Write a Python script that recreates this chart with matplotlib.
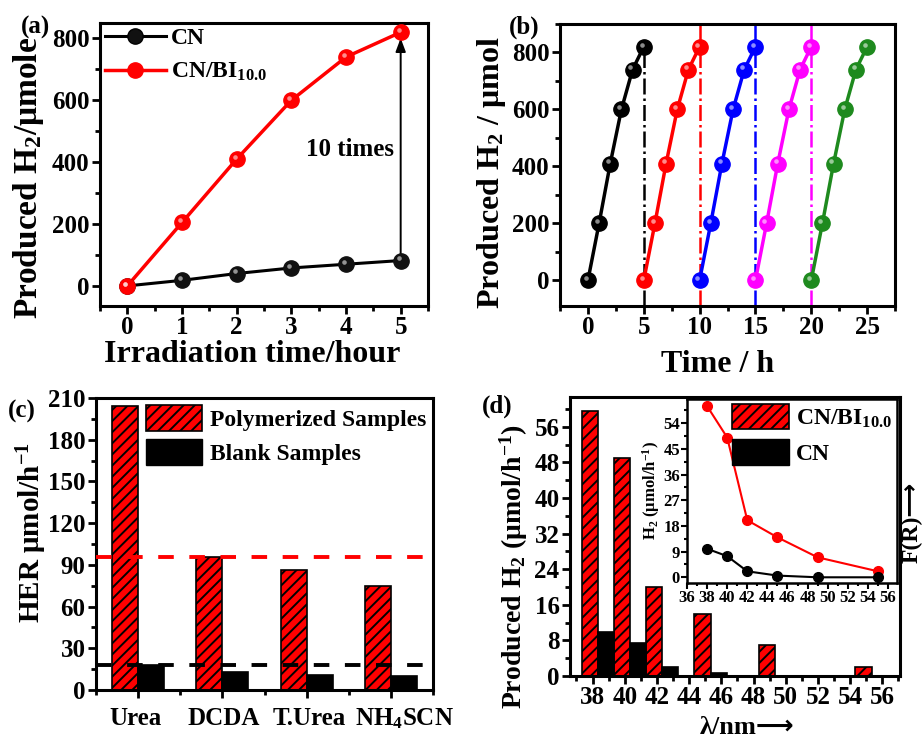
import matplotlib
matplotlib.use("Agg")
import matplotlib.pyplot as plt
import numpy as np
from matplotlib.transforms import offset_copy, ScaledTranslation
from matplotlib.ticker import MultipleLocator
from matplotlib.patches import Patch
from matplotlib.lines import Line2D

# ---------------- data ----------------
# (a)
time_a = [0, 1, 2, 3, 4, 5]
cn_a = [0, 18, 40, 58, 70, 82]
cnbi_a = [0, 205, 410, 600, 740, 820]
# (b)
cycle_t = [0, 1, 2, 3, 4, 5]
cycle_h2 = [0, 200, 410, 600, 740, 820]
cycle_starts = [0, 5, 10, 15, 20]
cycle_colors = ['black', 'red', 'blue', 'magenta', '#1e8a1e']
sep_lines = [5, 10, 15, 20]
# (c)
precursors = ['Urea', 'DCDA', 'T.Urea', 'NH$_4$SCN']
polymerized = [204, 96, 86, 75]
blank = [18, 13, 11, 10]
ref_poly = 96
ref_blank = 18
# (d)
wavelength = [38, 40, 42, 45, 49, 55]
cnbi_d = [59.5, 49, 20, 14, 7, 2]
cn_d = [10, 7.5, 2, 0.6, 0, 0]
cnbi_inset = [60, 49, 20, 14, 7, 2.1]
cn_inset = [10, 7.4, 2.1, 0.6, 0, 0]

# ---------------- style ----------------
plt.rcParams['font.family'] = ['Liberation Serif', 'DejaVu Sans']
plt.rcParams['font.weight'] = 'bold'
plt.rcParams['mathtext.fontset'] = 'custom'
plt.rcParams['mathtext.rm'] = 'Liberation Serif:bold'
plt.rcParams['mathtext.it'] = 'Liberation Serif:bold'
plt.rcParams['mathtext.bf'] = 'Liberation Serif:bold'
plt.rcParams['mathtext.default'] = 'rm'
plt.rcParams['hatch.linewidth'] = 1.4
plt.rcParams['axes.linewidth'] = 2.2

W, H = 923, 740
fig = plt.figure(figsize=(W / 100, H / 100), dpi=100)


def box(l, t, r, b):
    return [l / W, 1 - b / H, (r - l) / W, (b - t) / H]


def style_axes(ax, fs=18):
    ax.tick_params(which='major', direction='out', length=6, width=2, labelsize=fs, pad=1.5)
    ax.tick_params(which='minor', direction='out', length=3.5, width=2)
    ax.tick_params(top=False, right=False, which='both')
    for lab in ax.get_xticklabels() + ax.get_yticklabels():
        lab.set_fontweight('bold')


def sphere(ax, x, y, color, ms=10):
    ax.plot(x, y, 'o', color=color, ms=ms, mec=color, zorder=4)
    tr = offset_copy(ax.transData, fig=fig, x=-1.5, y=1.5, units='points')
    ax.plot(x, y, 'o', color='white', alpha=0.55, ms=ms * 0.3, mec='none', transform=tr, zorder=5)


# ---------------- (a) ----------------
axa = fig.add_axes(box(100, 23, 428, 306))
axa.plot(time_a, cn_a, '-', color='black', lw=2.2, zorder=3)
axa.plot(time_a, cnbi_a, '-', color='red', lw=2.5, zorder=3)
sphere(axa, time_a, cn_a, '#111111', ms=11)
sphere(axa, time_a, cnbi_a, 'red', ms=11)
axa.set_xlim(-0.5, 5.5)
axa.set_ylim(-65, 850)
axa.xaxis.set_major_locator(MultipleLocator(1))
axa.xaxis.set_minor_locator(MultipleLocator(0.5))
axa.yaxis.set_major_locator(MultipleLocator(200))
axa.yaxis.set_minor_locator(MultipleLocator(100))
style_axes(axa)
axa.annotate('', xy=(time_a[-1], cnbi_a[-1] - 10), xytext=(time_a[-1], cn_a[-1] + 10),
             arrowprops=dict(arrowstyle='-|>,head_length=0.8,head_width=0.3', color='black', lw=1.4))
axa.text(4.07, 440, '10 times', ha='center', va='center', fontsize=18, fontweight='bold')
h_cn = Line2D([], [], color='black', lw=2.2, marker='o', ms=11, mfc='#111111')
h_cnbi = Line2D([], [], color='red', lw=2.5, marker='o', ms=11, mfc='red')
axa.legend([h_cn, h_cnbi], ['CN', 'CN/BI$_{10.0}$'], loc='upper left', bbox_to_anchor=(0.0, 1.0),
           frameon=False, fontsize=17, handlelength=2.6, borderaxespad=0.0, borderpad=0.2,
           labelspacing=0.5, handletextpad=0.2)
fig.text(29 / W, 1 - 178 / H, 'Produced H$_2$/μmole', rotation=90, ha='center', va='center',
         fontsize=24, fontweight='bold')
fig.text(252 / W, 1 - 354 / H, 'Irradiation time/hour', ha='center', va='center',
         fontsize=23, fontweight='bold')
fig.text(35 / W, 1 - 27 / H, '(a)', ha='center', va='center', fontsize=18, fontweight='bold')

# ---------------- (b) ----------------
axb = fig.add_axes(box(560, 24, 895, 306))
for s, c in zip(cycle_starts, cycle_colors):
    tt = [s + t for t in cycle_t]
    axb.plot(tt, cycle_h2, '-', color=c, lw=2.5, zorder=3)
    sphere(axb, tt, cycle_h2, c, ms=11)
for i, xv in enumerate(sep_lines):
    c = cycle_colors[i]
    top = cycle_h2[-1] if i == 0 else 900
    axb.plot([xv, xv], [-90, top], color=c, lw=1.8, ls='-.', zorder=2)
axb.set_xlim(-2.5, 27.5)
axb.set_ylim(-90, 900)
axb.xaxis.set_major_locator(MultipleLocator(5))
axb.xaxis.set_minor_locator(MultipleLocator(2.5))
axb.yaxis.set_major_locator(MultipleLocator(200))
axb.yaxis.set_minor_locator(MultipleLocator(100))
style_axes(axb)
fig.text(491 / W, 1 - 173 / H, 'Produced H$_2$ / μmol', rotation=90, ha='center', va='center',
         fontsize=23, fontweight='bold')
fig.text(718 / W, 1 - 365 / H, 'Time / h', ha='center', va='center', fontsize=23, fontweight='bold')
fig.text(524 / W, 1 - 27 / H, '(b)', ha='center', va='center', fontsize=18, fontweight='bold')

# ---------------- (c) ----------------
axc = fig.add_axes(box(96, 398, 433, 690))
xc = np.arange(1, len(precursors) + 1)
wc = 0.31
axc.bar(xc - wc / 2, polymerized, width=wc, color='red', edgecolor='black', hatch='///', lw=1.2, zorder=2)
axc.bar(xc + wc / 2, blank, width=wc, color='black', edgecolor='black', lw=1.2, zorder=2)
axc.axhline(ref_poly, color='red', lw=2.8, ls=(0, (4, 4)), zorder=3)
axc.axhline(ref_blank, color='black', lw=2.8, ls=(0, (4, 4)), zorder=3)
axc.set_xlim(0.5, 4.5)
axc.set_ylim(0, 210)
axc.set_xticks(xc)
axc.set_xticklabels(precursors)
axc.xaxis.set_minor_locator(MultipleLocator(0.5))
axc.yaxis.set_major_locator(MultipleLocator(30))
axc.yaxis.set_minor_locator(MultipleLocator(15))
style_axes(axc)
axc.tick_params(axis='x', labelsize=18, pad=6)
shifts = [-3, 1, 3, 14]
for lab, dx in zip(axc.get_xticklabels(), shifts):
    lab.set_transform(lab.get_transform() + ScaledTranslation(dx / 100, 0, fig.dpi_scale_trans))
hp = Patch(facecolor='red', edgecolor='black', hatch='///', lw=1.2)
hb = Patch(facecolor='black', edgecolor='black')
axc.legend([hp, hb], ['Polymerized Samples', 'Blank Samples'], loc='upper right',
           bbox_to_anchor=(1.0, 1.0), frameon=False, fontsize=17, handlelength=2.4,
           handleheight=1.3, borderaxespad=0.1, borderpad=0.2, labelspacing=0.35, handletextpad=0.3)
fig.text(32 / W, 1 - 532 / H, 'HER μmol/h$^{-1}$', rotation=90, ha='center', va='center',
         fontsize=21, fontweight='bold')
fig.text(22 / W, 1 - 411 / H, '(c)', ha='center', va='center', fontsize=18, fontweight='bold')

# ---------------- (d) ----------------
axd = fig.add_axes(box(570, 397, 900, 676))
wl = np.array(wavelength, dtype=float)
axd.bar(wl - 0.17, cnbi_d, width=1.0, color='red', edgecolor='black', hatch='///', lw=1.2, zorder=2)
axd.bar(wl + 0.83, cn_d, width=1.0, color='black', edgecolor='black', lw=1.2, zorder=2)
axd.set_xlim(36.6, 57.1)
axd.set_ylim(0, 62.7)
axd.xaxis.set_major_locator(MultipleLocator(2))
axd.xaxis.set_minor_locator(MultipleLocator(1))
axd.yaxis.set_major_locator(MultipleLocator(8))
axd.yaxis.set_minor_locator(MultipleLocator(4))
style_axes(axd, fs=18)
fig.text(514 / W, 1 - 567 / H, 'Produced H$_2$ (μmol/h$^{-1}$)', rotation=90, ha='center', va='center',
         fontsize=20, fontweight='bold')
fig.text(747 / W, 1 - 727 / H, 'λ/nm⟶', ha='center', va='center', fontsize=19, fontweight='bold')
fig.text(912 / W, 1 - 522 / H, 'F(R)⟶', rotation=90, ha='center', va='center', fontsize=17,
         fontweight='bold')
fig.text(497 / W, 1 - 406 / H, '(d)', ha='center', va='center', fontsize=18, fontweight='bold')

# inset
axi = fig.add_axes(box(687, 399, 897, 583))
axi.plot(wavelength, cnbi_inset, '-o', color='red', lw=1.5, ms=7, zorder=3)
axi.plot(wavelength, cn_inset, '-o', color='black', lw=1.5, ms=7, zorder=3)
axi.set_xlim(36, 56.9)
axi.set_ylim(-2, 62.5)
axi.xaxis.set_major_locator(MultipleLocator(2))
axi.xaxis.set_minor_locator(MultipleLocator(1))
axi.yaxis.set_major_locator(MultipleLocator(9))
axi.yaxis.set_minor_locator(MultipleLocator(4.5))
style_axes(axi, fs=12)
axi.tick_params(which='major', length=4, width=1.5, pad=1)
axi.tick_params(which='minor', length=2.5, width=1.5)
for sp in axi.spines.values():
    sp.set_linewidth(1.8)
axi.set_ylabel('H$_2$ (μmol/h$^{-1}$)', fontsize=12, fontweight='bold', labelpad=1)
hp2 = Patch(facecolor='red', edgecolor='black', hatch='///', lw=1.2)
hb2 = Patch(facecolor='black', edgecolor='black')
axi.legend([hp2, hb2], ['CN/BI$_{10.0}$', 'CN'], loc='upper right', bbox_to_anchor=(1.0, 1.0),
           frameon=False, fontsize=17, handlelength=2.4, handleheight=1.3, borderaxespad=0.0,
           borderpad=0.2, labelspacing=0.4, handletextpad=0.3)

fig.savefig('out.png', dpi=100)
